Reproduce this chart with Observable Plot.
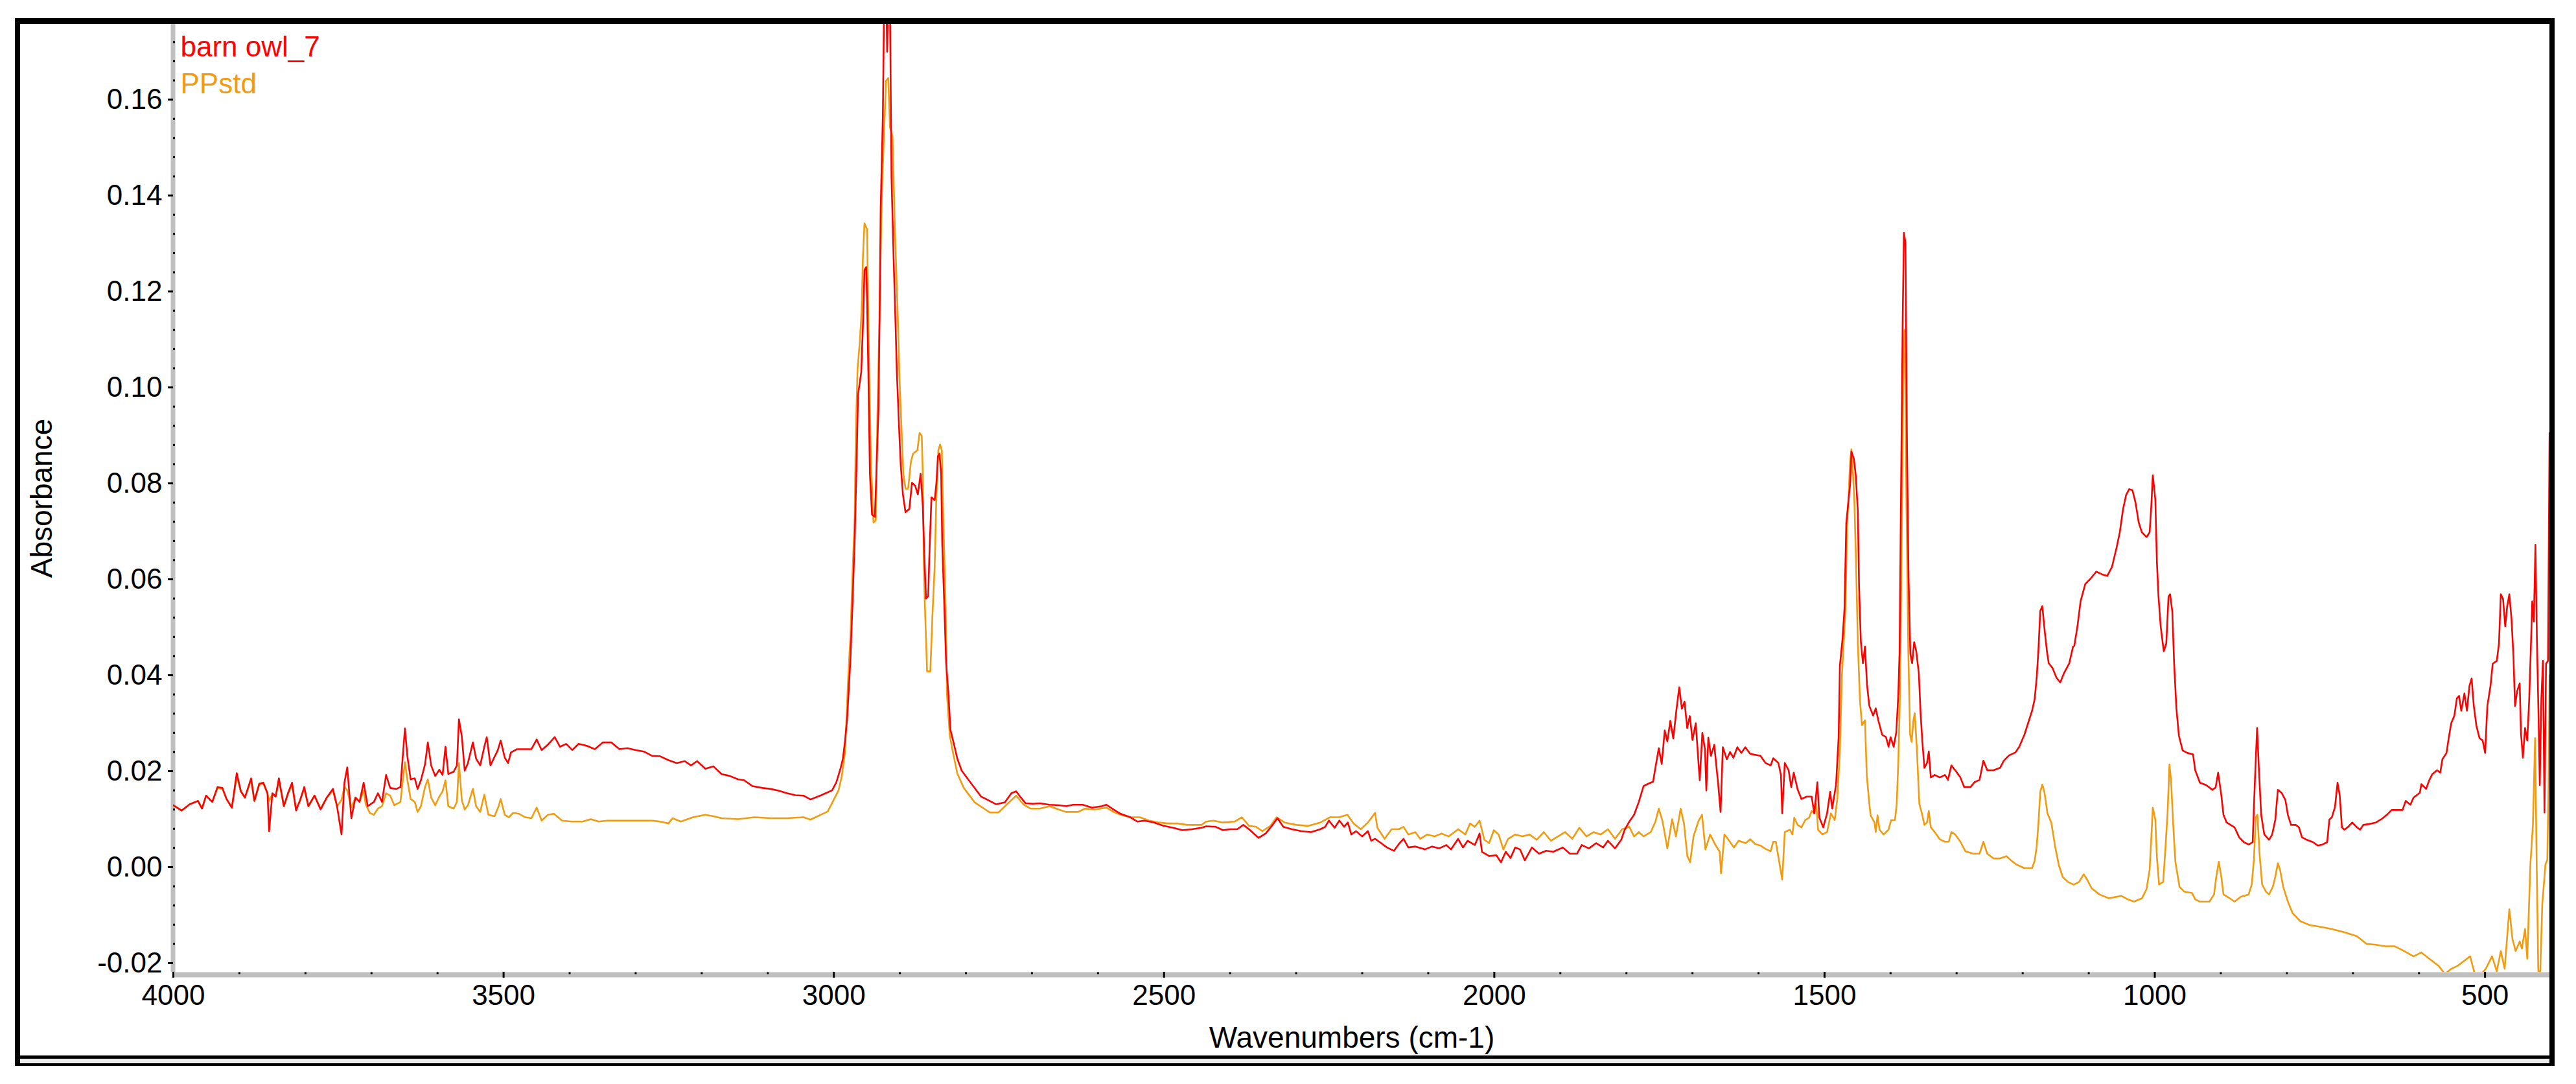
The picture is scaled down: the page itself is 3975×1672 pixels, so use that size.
<!DOCTYPE html>
<html>
<head>
<meta charset="utf-8">
<script src="https://cdn.jsdelivr.net/npm/d3@7"></script>
<script src="https://cdn.jsdelivr.net/npm/@observablehq/plot@0.6"></script>
<style>
html, body { margin: 0; padding: 0; background: #fff; }
#wrap { position: relative; width: 3975px; height: 1672px; overflow: hidden; background: #fff; }
#chart { position: absolute; left: 0; top: 0; }
#frame { position: absolute; left: 23px; top: 28px; width: 3919px; height: 1616px; box-sizing: border-box;
  border-style: solid; border-color: #000; border-width: 9px 8px 4px 8px; pointer-events: none; }
#frameLine { position: absolute; left: 31px; top: 1628px; width: 3903px; height: 5px; background: #000; }
#frameStrip { position: absolute; left: 31px; top: 1633px; width: 3903px; height: 7px; background: #ececec; }
</style>
</head>
<body>
<div id="wrap">
  <div id="chart"></div>
  <div id="frameLine"></div>
  <div id="frameStrip"></div>
  <div id="frame"></div>
</div>
<script>
// ---- data (wavenumber cm-1, absorbance) ----
const seriesNames = ["barn owl_7", "PPstd"];
const seriesColors = ["#ff0000", "#f29b0f"];

const owlPoints = [
[4000,0.0129],[3987.6,0.0118],[3975.2,0.0131],[3962.8,0.0138],[3956.6,0.0122],[3950.4,0.0149],[3941.1,0.0136],[3933.1,0.0167],
[3925.7,0.0165],[3919.5,0.0142],[3911.4,0.0124],[3904.0,0.0196],[3897.8,0.0158],[3891.6,0.0145],[3882.3,0.0185],[3877.3,0.0138],
[3869.9,0.0174],[3863.7,0.0176],[3857.5,0.0154],[3855.0,0.0075],[3850.1,0.0154],[3845.1,0.0147],[3840.2,0.0185],[3832.7,0.0127],
[3826.5,0.0154],[3820.3,0.0176],[3814.2,0.0118],[3808.0,0.0140],[3801.8,0.0167],[3795.6,0.0127],[3786.3,0.0149],[3777.0,0.0120],
[3767.7,0.0145],[3758.4,0.0163],[3752.2,0.0127],[3745.4,0.0068],[3741.0,0.0176],[3736.7,0.0208],[3730.5,0.0102],[3724.3,0.0145],
[3718.1,0.0136],[3711.9,0.0176],[3705.7,0.0127],[3696.4,0.0136],[3690.3,0.0154],[3684.1,0.0136],[3677.9,0.0192],[3671.7,0.0165],
[3662.4,0.0163],[3656.2,0.0167],[3649.4,0.0289],[3645.6,0.0230],[3640.7,0.0183],[3634.5,0.0185],[3630.2,0.0163],[3625.2,0.0181],
[3619.0,0.0214],[3614.7,0.0260],[3609.7,0.0212],[3603.5,0.0190],[3597.3,0.0203],[3592.4,0.0192],[3588.0,0.0251],[3583.7,0.0194],
[3575.6,0.0199],[3570.7,0.0212],[3567.6,0.0308],[3563.3,0.0273],[3558.9,0.0201],[3554.0,0.0217],[3546.5,0.0260],[3541.6,0.0226],
[3535.4,0.0212],[3529.2,0.0251],[3525.5,0.0271],[3519.9,0.0212],[3513.7,0.0230],[3508.7,0.0244],[3504.4,0.0264],[3498.2,0.0228],
[3493.2,0.0217],[3488.9,0.0239],[3479.6,0.0246],[3467.2,0.0246],[3457.9,0.0246],[3449.9,0.0266],[3442.4,0.0244],[3433.2,0.0255],
[3422.6,0.0271],[3414.6,0.0251],[3405.3,0.0257],[3396.0,0.0244],[3386.7,0.0257],[3374.3,0.0253],[3361.9,0.0246],[3349.5,0.0260],
[3337.1,0.0260],[3324.7,0.0246],[3312.4,0.0248],[3300.0,0.0244],[3287.6,0.0241],[3275.2,0.0232],[3262.8,0.0231],[3250.4,0.0223],
[3238.0,0.0217],[3225.6,0.0221],[3216.3,0.0212],[3207.0,0.0221],[3194.6,0.0205],[3182.3,0.0210],[3169.9,0.0194],[3157.5,0.0190],
[3145.1,0.0183],[3135.8,0.0181],[3123.4,0.0169],[3107.9,0.0165],[3095.5,0.0163],[3083.1,0.0159],[3070.8,0.0154],[3058.4,0.0150],
[3046.0,0.0149],[3035.4,0.0141],[3019.0,0.0150],[3002.7,0.0160],[2996.2,0.0177],[2989.6,0.0207],[2986.3,0.0226],[2983.1,0.0262],
[2979.8,0.0310],[2974.9,0.0432],[2971.6,0.0553],[2968.3,0.0686],[2965.1,0.0869],[2963.4,0.0984],[2958.5,0.1032],[2955.3,0.1154],
[2953.6,0.1245],[2951.0,0.1251],[2949.7,0.1184],[2947.7,0.1026],[2945.4,0.0820],[2942.2,0.0735],[2937.9,0.0730],[2935.6,0.0820],
[2932.4,0.0954],[2930.7,0.1147],[2929.1,0.1372],[2925.8,0.1566],[2923.5,0.1850],[2921.6,0.1900],[2919.3,0.1700],[2917.0,0.1850],
[2915.0,0.1800],[2912.7,0.1439],[2909.5,0.1269],[2906.8,0.1142],[2904.6,0.1032],[2901.3,0.0918],[2898.7,0.0838],[2895.4,0.0777],
[2891.5,0.0740],[2885.6,0.0747],[2881.7,0.0801],[2876.8,0.0795],[2872.8,0.0777],[2868.6,0.0820],[2865.3,0.0753],[2862.7,0.0638],
[2860.4,0.0560],[2857.1,0.0565],[2855.5,0.0644],[2852.2,0.0771],[2847.3,0.0765],[2844.7,0.0801],[2842.4,0.0856],[2840.1,0.0862],
[2837.5,0.0820],[2835.9,0.0674],[2832.6,0.0540],[2830.0,0.0426],[2826.7,0.0365],[2823.4,0.0286],[2817.9,0.0255],[2813.0,0.0226],
[2806.4,0.0201],[2793.4,0.0177],[2777.0,0.0147],[2754.1,0.0131],[2741.0,0.0135],
[2731.2,0.0154],[2724.0,0.0158],[2716.8,0.0145],[2709.6,0.0133],[2698.8,0.0132],[2688.0,0.0133],[2673.6,0.0130],[2659.2,0.0129],
[2648.4,0.0127],[2637.6,0.0130],[2623.2,0.0130],[2608.9,0.0124],[2594.5,0.0127],[2587.3,0.0130],[2576.5,0.0120],[2565.7,0.0111],
[2551.3,0.0104],[2540.5,0.0095],[2529.7,0.0097],[2515.3,0.0093],[2500.9,0.0086],[2486.5,0.0082],[2472.1,0.0077],[2457.7,0.0079],
[2443.3,0.0082],[2436.1,0.0085],[2421.7,0.0084],[2410.9,0.0077],[2400.1,0.0079],[2389.3,0.0079],[2380.0,0.0088],[2371.4,0.0079],
[2364.2,0.0070],[2357.0,0.0061],[2346.2,0.0070],[2336.8,0.0086],[2328.2,0.0102],[2319.5,0.0084],[2306.6,0.0079],[2292.2,0.0075],
[2277.8,0.0073],[2263.4,0.0079],[2256.2,0.0084],[2250.4,0.0097],[2241.8,0.0082],[2234.6,0.0097],[2227.4,0.0084],[2221.7,0.0093],
[2216.6,0.0068],[2209.4,0.0075],[2200.1,0.0064],[2191.4,0.0075],[2186.4,0.0055],[2180.6,0.0059],[2173.4,0.0052],[2162.6,0.0041],
[2151.9,0.0034],[2144.6,0.0048],[2137.4,0.0059],[2130.2,0.0041],[2119.5,0.0043],[2105.1,0.0037],[2094.3,0.0043],[2083.5,0.0039],
[2072.7,0.0046],[2065.5,0.0037],[2054.7,0.0059],[2047.5,0.0041],[2040.3,0.0055],[2029.5,0.0046],[2022.3,0.0070],[2018.7,0.0032],
[2007.9,0.0023],[1997.1,0.0025],[1989.9,0.0010],[1982.7,0.0032],[1975.5,0.0019],[1968.3,0.0041],[1961.1,0.0037],[1953.9,0.0014],
[1943.1,0.0041],[1932.3,0.0028],[1921.5,0.0034],[1910.7,0.0032],[1896.3,0.0041],[1885.5,0.0028],[1874.8,0.0028],[1867.6,0.0046],
[1856.8,0.0039],[1846.0,0.0050],[1835.2,0.0041],[1828.0,0.0055],[1817.2,0.0039],[1807.8,0.0057],[1802.8,0.0077],[1795.6,0.0095],
[1788.4,0.0109],[1781.2,0.0136],[1774.0,0.0169],[1766.8,0.0174],[1759.6,0.0178],[1756.0,0.0208],[1751.0,0.0248],
[1746.5,0.0215],[1742.0,0.0285],[1738.0,0.0262],[1733.5,0.0305],[1729.0,0.0268],[1724.5,0.0325],[1720.0,0.0375],[1716.0,0.0330],
[1712.0,0.0345],[1708.0,0.0290],[1704.0,0.0315],[1700.0,0.0265],[1695.0,0.0300],[1689.0,0.0181],[1685.0,0.0280],[1681.0,0.0245],
[1679.0,0.0160],[1676.0,0.0270],[1672.0,0.0232],[1667.0,0.0255],[1661.0,0.0172],[1657.4,0.0115],[1654.0,0.0250],[1648.0,0.0225],
[1643.0,0.0240],[1638.0,0.0228],[1632.0,0.0250],[1626.0,0.0238],[1620.0,0.0250],
[1612.6,0.0236],[1597.1,0.0232],[1589.3,0.0217],[1581.6,0.0212],[1577.7,0.0227],[1573.8,0.0222],[1569.9,0.0217],[1566.0,0.0192],
[1564.1,0.0112],[1560.2,0.0217],[1554.4,0.0202],[1550.5,0.0167],[1546.6,0.0197],[1540.8,0.0162],[1535.0,0.0142],[1527.2,0.0147],
[1519.5,0.0147],[1515.6,0.0112],[1510.9,0.0177],[1507.8,0.0103],[1502.0,0.0083],[1496.2,0.0112],[1491.5,0.0157],[1488.4,0.0122],
[1482.6,0.0172],[1478.7,0.0271],[1476.8,0.0420],[1472.9,0.0474],[1469.8,0.0539],[1467.1,0.0717],[1463.2,0.0772],[1461.3,0.0797],
[1459.3,0.0866],[1455.5,0.0851],[1452.7,0.0816],[1449.6,0.0742],[1447.7,0.0583],[1445.0,0.0469],[1441.9,0.0425],[1438.8,0.0460],
[1435.7,0.0380],[1432.2,0.0336],[1426.4,0.0316],[1422.5,0.0331],[1418.6,0.0306],[1412.8,0.0276],[1407.0,0.0271],[1403.1,0.0251],
[1400.0,0.0271],[1395.3,0.0251],[1391.4,0.0281],[1388.3,0.0360],[1386.4,0.0450],[1384.5,0.0742],[1381.7,0.1144],[1379.8,0.1322],
[1377.5,0.1302],[1375.1,0.0866],[1372.8,0.0603],[1370.1,0.0445],[1367.4,0.0425],[1364.3,0.0469],[1361.2,0.0450],[1357.3,0.0405],
[1354.6,0.0321],[1351.9,0.0261],[1348.8,0.0207],[1344.9,0.0217],[1342.2,0.0241],[1339.1,0.0187],[1333.2,0.0192],[1325.5,0.0187],
[1317.7,0.0192],[1313.1,0.0182],[1308.0,0.0212],[1302.2,0.0202],[1294.4,0.0187],[1288.6,0.0167],[1278.9,0.0167],[1273.1,0.0177],
[1265.3,0.0182],[1259.5,0.0222],[1253.7,0.0202],[1244.0,0.0202],[1234.3,0.0207],[1228.5,0.0222],[1220.7,0.0233],[1211.0,0.0239],
[1205.2,0.0251],[1197.4,0.0276],[1191.6,0.0301],[1185.8,0.0326],[1181.9,0.0350],[1178.8,0.0395],[1176.1,0.0455],[1173.4,0.0534],
[1170.3,0.0544],[1167.2,0.0499],[1163.3,0.0450],[1160.6,0.0425],[1154.8,0.0415],[1148.9,0.0395],[1143.1,0.0385],[1137.3,0.0405],
[1129.5,0.0425],[1123.7,0.0460],
[1121.9,0.0461],[1117.1,0.0502],[1112.4,0.0554],[1105.3,0.0590],[1098.1,0.0600],[1088.6,0.0616],[1079.1,0.0610],[1072.0,0.0607],
[1064.8,0.0626],[1057.7,0.0667],[1053.0,0.0698],[1048.2,0.0745],[1043.4,0.0776],[1038.7,0.0788],[1033.9,0.0786],[1029.2,0.0760],
[1024.4,0.0719],[1019.6,0.0698],[1012.5,0.0688],[1007.8,0.0698],[1005.4,0.0750],[1003.0,0.0817],[999.2,0.0766],[996.8,0.0636],
[994.4,0.0564],[991.1,0.0502],[986.4,0.0450],[982.6,0.0466],[979.2,0.0564],[976.8,0.0569],[973.5,0.0533],[970.7,0.0424],
[967.3,0.0331],[963.5,0.0274],[957.8,0.0243],[950.7,0.0238],[942.1,0.0235],[938.8,0.0202],[931.7,0.0176],[922.1,0.0171],
[912.6,0.0161],[907.9,0.0166],[904.1,0.0197],[899.3,0.0150],[896.0,0.0109],[891.2,0.0093],[879.3,0.0083],[872.2,0.0062],
[865.1,0.0052],[857.9,0.0047],[851.8,0.0052],[848.4,0.0181],[845.1,0.0290],[842.3,0.0202],[838.9,0.0109],[834.2,0.0068],
[827.0,0.0057],[822.3,0.0068],[817.5,0.0099],[813.7,0.0161],[808.0,0.0155],[802.3,0.0140],[798.5,0.0109],[793.7,0.0088],
[786.6,0.0088],[781.8,0.0083],[777.1,0.0062],[770.0,0.0057],[760.4,0.0052],[753.3,0.0045],[746.2,0.0047],[739.0,0.0052],
[735.7,0.0099],[731.9,0.0104],[727.2,0.0125],[723.3,0.0176],[720.0,0.0150],[716.7,0.0083],[712.9,0.0078],[708.1,0.0083],
[701.0,0.0093],[693.9,0.0083],[689.1,0.0078],[684.4,0.0088],[674.8,0.0090],[665.3,0.0093],[655.8,0.0101],[648.7,0.0109],
[641.5,0.0119],[632.0,0.0119],[624.9,0.0119],[620.1,0.0138],[613.0,0.0130],[608.3,0.0145],[598.7,0.0155],[596.4,0.0173],
[589.2,0.0163],[584.5,0.0181],[579.7,0.0194],[572.6,0.0202],[567.8,0.0197],[564.5,0.0225],[558.3,0.0238],[555.0,0.0269],
[551.2,0.0300],[546.4,0.0316],[542.6,0.0352],[539.3,0.0357],[536.0,0.0326],[531.2,0.0362],[527.4,0.0326],[523.6,0.0378],
[520.3,0.0393],[517.0,0.0336],[513.1,0.0295],[508.4,0.0269],[503.6,0.0264],[499.8,0.0238],[496.5,0.0336],[491.7,0.0378],
[488.4,0.0424],[482.2,0.0430],[478.9,0.0466],[476.1,0.0569],[472.7,0.0559],[469.4,0.0502],[466.5,0.0543],[463.2,0.0569],
[459.9,0.0517],[457.0,0.0440],[454.6,0.0336],[451.3,0.0367],[447.5,0.0383],[445.6,0.0280],[442.7,0.0228],[439.4,0.0290],
[436.1,0.0264],[433.2,0.0347],[430.9,0.0445],[428.5,0.0554],[426.1,0.0512],[423.7,0.0672],[421.4,0.0471],[419.0,0.0316],
[417.1,0.0171],[414.7,0.0352],[412.3,0.0430],[410.0,0.0114],[407.6,0.0424],[404.7,0.0430],[402.3,0.0905],[401.4,0.0900]
];

const ppPoints = [
[4000,0.0129],[3987.6,0.0118],[3975.2,0.0131],[3962.8,0.0138],[3956.6,0.0122],[3950.4,0.0149],[3941.1,0.0136],[3933.1,0.0165],
[3925.7,0.0163],[3919.5,0.0142],[3911.4,0.0124],[3904.0,0.0190],[3897.8,0.0158],[3891.6,0.0145],[3882.3,0.0182],[3877.3,0.0138],
[3869.9,0.0172],[3863.7,0.0174],[3857.5,0.0154],[3855.0,0.0138],[3850.1,0.0152],[3845.1,0.0147],[3840.2,0.0180],[3832.7,0.0127],
[3826.5,0.0152],[3820.3,0.0172],[3814.2,0.0120],[3808.0,0.0140],[3801.8,0.0163],[3795.6,0.0127],[3786.3,0.0149],[3777.0,0.0122],
[3767.7,0.0145],[3758.4,0.0160],[3752.2,0.0127],[3745.4,0.0140],[3741.0,0.0168],[3736.7,0.0160],[3730.5,0.0125],[3724.3,0.0145],
[3718.1,0.0136],[3711.9,0.0160],
[3708.8,0.0131],[3702.6,0.0113],[3696.4,0.0109],[3690.3,0.0122],[3684.1,0.0127],[3677.9,0.0154],[3671.7,0.0149],[3665.5,0.0129],
[3656.2,0.0136],[3649.4,0.0219],[3645.6,0.0181],[3640.7,0.0142],[3634.5,0.0136],[3630.2,0.0115],[3625.2,0.0127],[3619.0,0.0167],
[3614.7,0.0183],[3609.7,0.0145],[3603.5,0.0129],[3597.3,0.0147],[3592.4,0.0158],[3588.0,0.0181],[3583.7,0.0127],[3575.6,0.0122],
[3570.7,0.0136],[3567.6,0.0217],[3563.3,0.0140],[3558.9,0.0120],[3554.0,0.0129],[3546.5,0.0163],[3541.6,0.0127],[3535.4,0.0115],
[3529.2,0.0151],[3523.0,0.0109],[3513.7,0.0106],[3507.5,0.0127],[3504.4,0.0142],[3498.2,0.0109],[3492.0,0.0104],[3485.8,0.0113],
[3476.5,0.0111],[3467.2,0.0104],[3457.9,0.0102],[3449.9,0.0124],[3442.4,0.0097],[3433.2,0.0109],[3423.9,0.0111],[3411.5,0.0097],
[3396.0,0.0095],[3380.5,0.0095],[3368.1,0.0100],[3355.7,0.0095],[3343.3,0.0097],[3318.6,0.0097],[3293.8,0.0097],[3275.2,0.0097],
[3262.8,0.0095],[3250.4,0.0091],[3244.2,0.0102],[3231.8,0.0095],[3213.2,0.0104],[3194.6,0.0109],[3182.3,0.0106],[3169.9,0.0102],
[3145.1,0.0100],[3120.3,0.0104],[3095.5,0.0102],[3070.8,0.0102],[3046.0,0.0104],
[3035.4,0.0099],[3009.2,0.0116],[2992.9,0.0160],[2988.0,0.0189],[2983.1,0.0238],[2978.2,0.0396],[2974.9,0.0480],[2971.6,0.0613],
[2968.3,0.0735],[2966.7,0.0905],[2964.1,0.1038],[2960.8,0.1093],[2957.9,0.1160],[2955.9,0.1274],[2953.6,0.1342],[2949.7,0.1330],
[2947.1,0.1081],[2943.8,0.0845],[2939.9,0.0718],[2936.6,0.0723],[2934.0,0.0942],[2930.7,0.1160],[2927.5,0.1390],[2924.2,0.1523],
[2920.9,0.1639],[2917.6,0.1645],[2915.0,0.1542],[2911.1,0.1523],[2907.8,0.1342],[2905.2,0.1232],[2902.9,0.1135],[2900.6,0.1020],
[2898.0,0.0930],[2894.7,0.0820],[2891.5,0.0789],[2887.5,0.0789],[2883.3,0.0845],[2880.0,0.0862],[2873.5,0.0869],[2870.2,0.0905],
[2866.9,0.0899],[2865.3,0.0820],[2863.7,0.0626],[2862.0,0.0540],[2858.8,0.0408],[2853.9,0.0408],[2850.6,0.0528],[2847.3,0.0626],
[2845.0,0.0760],[2841.8,0.0869],[2839.1,0.0881],[2836.5,0.0869],[2834.2,0.0723],[2831.0,0.0560],[2828.7,0.0360],[2824.4,0.0274],
[2819.5,0.0238],[2813.0,0.0195],[2803.2,0.0165],[2786.8,0.0135],[2763.9,0.0114],[2750.8,0.0114],
[2724.0,0.0149],[2713.2,0.0131],[2702.4,0.0122],[2688.0,0.0122],[2673.6,0.0127],[2659.2,0.0120],[2648.4,0.0115],[2630.4,0.0115],
[2619.6,0.0122],[2605.3,0.0120],[2587.3,0.0124],[2576.5,0.0115],[2565.7,0.0109],[2551.3,0.0104],[2536.9,0.0104],[2522.5,0.0097],
[2508.1,0.0093],[2493.7,0.0091],[2479.3,0.0091],[2464.9,0.0088],[2443.3,0.0088],[2436.1,0.0095],[2425.3,0.0097],[2410.9,0.0093],
[2393.0,0.0095],[2382.2,0.0104],[2371.4,0.0086],[2360.6,0.0084],[2351.2,0.0075],[2339.0,0.0086],[2329.6,0.0104],[2317.4,0.0093],
[2299.4,0.0088],[2281.4,0.0086],[2263.4,0.0093],[2249.0,0.0104],[2234.6,0.0104],[2222.4,0.0109],[2213.0,0.0091],[2202.2,0.0079],
[2191.4,0.0093],[2180.6,0.0113],[2177.0,0.0082],[2166.2,0.0059],[2155.4,0.0079],[2144.6,0.0079],[2137.4,0.0084],[2130.2,0.0068],
[2119.5,0.0073],[2112.3,0.0059],[2101.5,0.0068],[2090.7,0.0064],[2079.9,0.0070],[2069.1,0.0064],[2054.7,0.0079],[2043.9,0.0068],
[2036.7,0.0091],[2029.5,0.0084],[2022.3,0.0097],[2015.1,0.0057],[2007.9,0.0050],[2000.7,0.0077],[1993.5,0.0068],[1986.3,0.0037],
[1979.1,0.0059],[1968.3,0.0068],[1957.5,0.0064],[1946.7,0.0068],[1935.9,0.0057],[1925.1,0.0073],[1914.3,0.0055],[1903.6,0.0064],
[1892.8,0.0073],[1882.0,0.0059],[1871.2,0.0082],[1860.4,0.0064],[1849.6,0.0073],[1838.8,0.0068],[1828.0,0.0079],[1817.2,0.0059],
[1806.4,0.0079],[1795.6,0.0084],[1788.4,0.0064],[1781.2,0.0073],[1774.0,0.0064],[1763.2,0.0073],[1756.0,0.0095],[1751.0,0.0122],
[1745.2,0.0095],[1738.0,0.0039],[1730.8,0.0100],[1725.0,0.0064],[1717.9,0.0122],[1712.8,0.0091],[1707.8,0.0023],[1703.5,0.0010],
[1698.4,0.0064],[1691.2,0.0095],[1685.5,0.0109],[1680.4,0.0037],[1673.2,0.0068],[1666.0,0.0048],[1658.8,0.0032],[1656.7,-0.0013],
[1651.6,0.0068],[1644.4,0.0055],[1637.2,0.0041],[1630.1,0.0055],[1619.3,0.0050],
[1612.6,0.0058],[1604.8,0.0048],[1597.1,0.0045],[1589.3,0.0038],[1581.6,0.0033],[1577.7,0.0053],[1573.8,0.0053],[1564.1,-0.0026],
[1560.2,0.0073],[1552.5,0.0078],[1548.6,0.0068],[1545.9,0.0103],[1540.8,0.0088],[1535.0,0.0083],[1529.2,0.0098],[1523.4,0.0103],
[1519.5,0.0117],[1515.6,0.0112],[1512.5,0.0132],[1509.8,0.0078],[1503.2,0.0068],[1496.2,0.0073],[1490.4,0.0112],[1484.6,0.0098],
[1480.7,0.0142],[1476.8,0.0241],[1473.7,0.0400],[1471.0,0.0469],[1468.3,0.0539],[1465.9,0.0707],[1463.2,0.0787],[1461.3,0.0846],
[1459.3,0.0871],[1457.4,0.0836],[1454.7,0.0757],[1452.4,0.0638],[1449.6,0.0469],[1446.5,0.0350],[1443.4,0.0296],[1438.8,0.0306],
[1436.1,0.0192],[1432.2,0.0132],[1430.2,0.0108],[1424.4,0.0093],[1422.5,0.0073],[1419.8,0.0108],[1416.7,0.0078],[1410.8,0.0068],
[1403.1,0.0078],[1399.2,0.0098],[1393.4,0.0098],[1390.7,0.0132],[1388.3,0.0221],[1385.6,0.0370],[1382.9,0.0727],[1380.6,0.1050],
[1378.6,0.1120],[1375.9,0.0747],[1373.2,0.0450],[1370.5,0.0277],[1368.2,0.0261],[1365.4,0.0306],[1363.5,0.0321],[1360.4,0.0251],
[1356.5,0.0132],[1352.6,0.0112],[1348.8,0.0088],[1344.9,0.0093],[1342.2,0.0117],[1339.1,0.0083],[1333.2,0.0073],[1325.5,0.0058],
[1317.7,0.0053],[1311.9,0.0053],[1308.0,0.0073],[1302.2,0.0068],[1294.4,0.0053],[1286.7,0.0033],[1275.0,0.0028],[1265.3,0.0028],
[1259.5,0.0053],[1253.7,0.0028],[1244.0,0.0018],[1234.3,0.0018],[1224.6,0.0023],[1216.8,0.0013],[1209.1,0.0005],[1197.4,-0.0002],
[1185.8,-0.0002],[1181.9,0.0013],[1178.8,0.0043],[1176.1,0.0093],[1173.4,0.0157],[1170.3,0.0172],[1167.2,0.0157],[1162.5,0.0112],
[1156.7,0.0093],[1150.9,0.0043],[1145.1,0.0003],[1139.2,-0.0021],[1131.5,-0.0031],[1123.7,-0.0036],
[1121.9,-0.0036],[1114.8,-0.0031],[1107.6,-0.0015],[1102.9,-0.0025],[1095.7,-0.0044],[1083.9,-0.0057],[1069.6,-0.0065],[1050.6,-0.0060],
[1041.1,-0.0067],[1031.5,-0.0072],[1019.6,-0.0065],[1012.5,-0.0046],[1007.8,-0.0005],[1005.4,0.0057],[1003.0,0.0124],[999.2,0.0099],
[996.8,0.0021],[993.5,-0.0036],[987.3,-0.0031],[984.0,0.0037],[980.6,0.0114],[977.8,0.0214],[975.4,0.0181],[972.1,0.0088],
[968.8,0.0011],[962.6,-0.0041],[955.4,-0.0051],[943.6,-0.0054],[938.8,-0.0067],[931.7,-0.0072],[917.4,-0.0072],[910.3,-0.0057],
[906.9,-0.0020],[903.1,0.0011],[899.3,-0.0020],[896.0,-0.0057],[886.5,-0.0065],[879.3,-0.0072],[869.8,-0.0062],[857.9,-0.0057],
[853.2,-0.0036],[849.9,0.0016],[847.0,0.0104],[844.6,0.0109],[841.3,0.0026],[837.5,-0.0036],[831.8,-0.0051],[827.0,-0.0057],
[821.3,-0.0041],[817.5,-0.0020],[813.7,0.0008],[810.4,-0.0005],[805.6,-0.0041],[798.5,-0.0072],[791.4,-0.0096],[779.5,-0.0113],
[765.2,-0.0121],[751.0,-0.0124],[731.9,-0.0129],[712.9,-0.0136],[693.9,-0.0144],[679.6,-0.0160],[665.3,-0.0162],[651.1,-0.0165],
[636.8,-0.0165],[622.5,-0.0175],[608.3,-0.0186],[596.4,-0.0178],[584.5,-0.0191],[570.2,-0.0206],[560.7,-0.0223],[551.2,-0.0212],
[541.7,-0.0206],[532.2,-0.0196],[522.6,-0.0186],[513.1,-0.0235],[498.9,-0.0212],[489.4,-0.0186],[482.2,-0.0217],[476.1,-0.0175],
[470.3,-0.0212],[463.2,-0.0088],[458.5,-0.0150],[453.7,-0.0175],[447.5,-0.0155],[444.2,-0.0170],[439.4,-0.0129],[436.1,-0.0191],
[431.3,0.0006],[427.5,0.0088],[424.2,0.0269],[421.8,0.0006],[419.4,-0.0212],[417.1,-0.0250],[413.3,-0.0077],[408.5,0.0006],
[405.7,0.0015],[403.8,0.0171],[402.3,0.0400]
];

// ---- axis ticks ----
const xTicks = [4000, 3500, 3000, 2500, 2000, 1500, 1000, 500];
const xMinor = [3900,3800,3700,3600,3400,3300,3200,3100,2900,2800,2700,2600,2400,2300,2200,2100,1900,1800,1700,1600,1400,1300,1200,1100,900,800,700,600];
const yTicks = [-0.02, 0, 0.02, 0.04, 0.06, 0.08, 0.10, 0.12, 0.14, 0.16];
const yMinor = [-0.016,-0.012,-0.008,-0.004,0.004,0.008,0.012,0.016,0.024,0.028,0.032,0.036,0.044,0.048,0.052,0.056,
  0.064,0.068,0.072,0.076,0.084,0.088,0.092,0.096,0.104,0.108,0.112,0.116,0.124,0.128,0.132,0.136,0.144,0.148,0.152,0.156,
  0.164,0.168,0.172];
const xDomain = [4000, 402];
const yDomain = [-0.0219, 0.1757];
const xTitle = "Wavenumbers (cm-1)";
const yTitle = "Absorbance";

const FONT = "'Liberation Sans', Arial, Helvetica, sans-serif";

const chart = Plot.plot({
  width: 3975,
  height: 1672,
  marginLeft: 267,
  marginRight: 41,
  marginTop: 37,
  marginBottom: 173,
  style: { fontFamily: FONT, fontSize: "44px", color: "#000", background: "transparent", overflow: "visible" },
  x: { type: "linear", domain: xDomain },
  y: { type: "linear", domain: yDomain },
  marks: [
    // axis bands
    Plot.ruleX([xDomain[0]], { stroke: "#c0c0c0", strokeWidth: 7, dx: -0.5 }),
    Plot.ruleY([yDomain[0]], { stroke: "#c0c0c0", strokeWidth: 8, dy: 4 }),
    // spectra
    Plot.line(ppPoints, { x: d => d[0], y: d => d[1], stroke: seriesColors[1], strokeWidth: 2.6, clip: true }),
    Plot.line(owlPoints, { x: d => d[0], y: d => d[1], stroke: seriesColors[0], strokeWidth: 2.6, clip: true }),
    // minor ticks
    Plot.dot(yMinor, { x: xDomain[0], y: d => d, symbol: "square", r: 1.7, fill: "#000", stroke: null, dx: 1 }),
    Plot.dot(xMinor, { x: d => d, y: yDomain[0], symbol: "square", r: 1.7, fill: "#000", stroke: null, dy: 1.5 }),
    // major axes
    Plot.axisY(yTicks, { anchor: "left", tickSize: 8, tickPadding: 9, strokeWidth: 3, stroke: "#000",
      tickFormat: d => d.toFixed(2), fontSize: 44, label: null }),
    Plot.axisX(xTicks, { anchor: "bottom", tickSize: 9, tickPadding: 10, strokeWidth: 3, stroke: "#000",
      tickFormat: d => String(d), fontSize: 44, label: null }),
    // axis titles
    Plot.text([xTitle], { frameAnchor: "bottom", text: d => d, dx: -15, dy: 116, lineAnchor: "bottom",
      textAnchor: "middle", fontSize: 46, fill: "#000" }),
    Plot.text([yTitle], { frameAnchor: "left", text: d => d, rotate: -90, dx: -188, lineAnchor: "bottom",
      textAnchor: "middle", fontSize: 46, fill: "#000" }),
    // legend labels
    Plot.text([seriesNames[0]], { frameAnchor: "top-left", text: d => d, dx: 11, dy: 49, lineAnchor: "bottom",
      textAnchor: "start", fontSize: 44, fill: seriesColors[0] }),
    Plot.text([seriesNames[1]], { frameAnchor: "top-left", text: d => d, dx: 11, dy: 106, lineAnchor: "bottom",
      textAnchor: "start", fontSize: 44, fill: seriesColors[1] })
  ]
});
document.getElementById("chart").appendChild(chart);
</script>
</body>
</html>
